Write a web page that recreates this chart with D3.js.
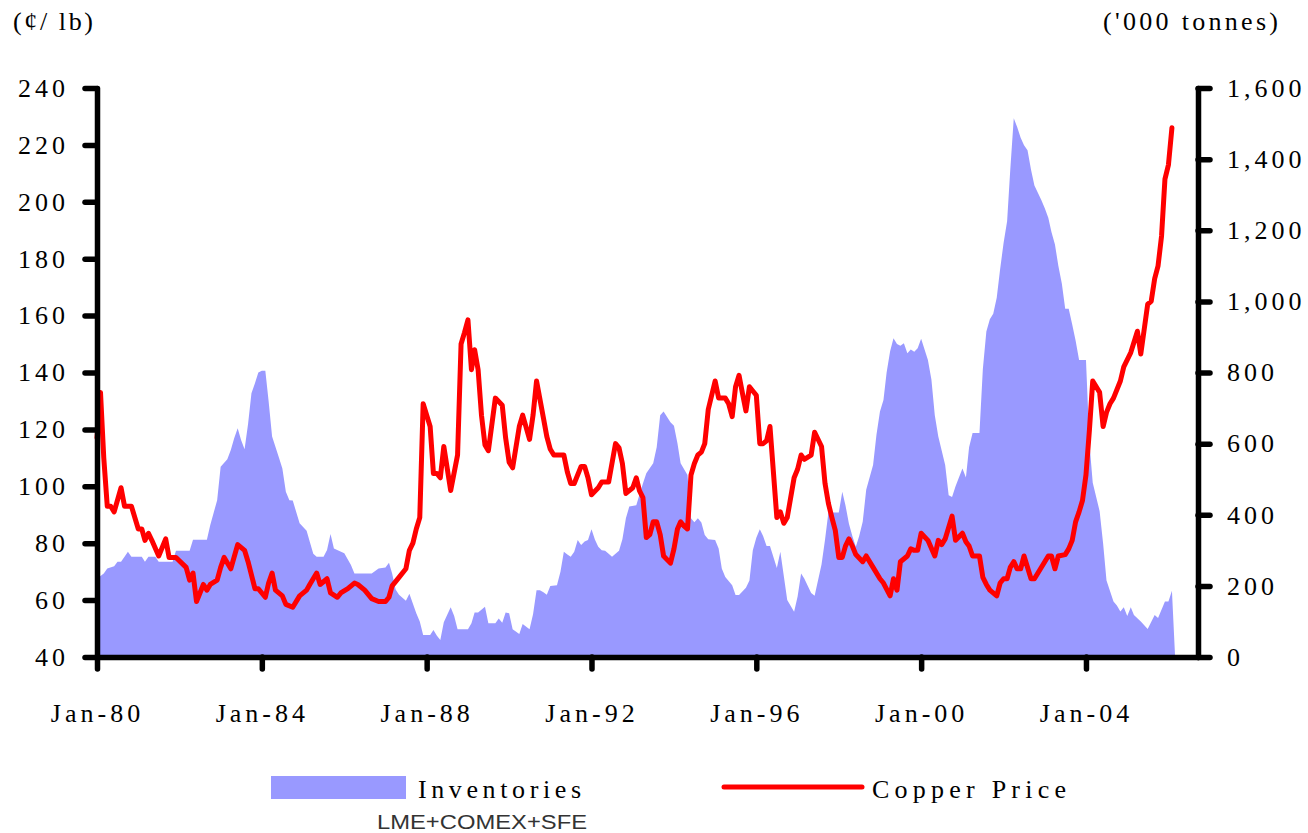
<!DOCTYPE html>
<html lang="en">
<head>
<meta charset="UTF-8">
<title>Copper Price vs Inventories</title>
<script src="https://d3js.org/d3.v7.min.js"></script>
<style>
  body { margin: 0; background: #fff; }
  svg { display: block; }
  .serif { font-family: "Liberation Serif", "Times New Roman", serif; fill: #000; }
  .axis text { font-family: "Liberation Serif", "Times New Roman", serif; font-size: 26px; letter-spacing: 4px; fill: #000; }
  .axis path, .axis line { stroke: #000; stroke-width: 5.5px; stroke-linecap: round; }
</style>
</head>
<body>
<div id="chart"></div>
<script>
// Copper price, cents per lb (monthly points)
const copperPrice = [
  ["1980-01",117],["1980-02",133],["1980-03",110],["1980-04",93],["1980-05",93],["1980-06",91],
  ["1980-08",99.5],["1980-09",93],["1980-11",93],["1981-01",85],["1981-02",85],["1981-03",81],
  ["1981-04",83.5],["1981-05",81],["1981-07",75.5],["1981-09",81.5],["1981-10",75],["1981-12",75],
  ["1982-03",71.5],["1982-04",67],["1982-05",69.5],["1982-06",59.5],["1982-08",65.5],["1982-09",63.5],
  ["1982-10",65.5],["1982-12",67],["1983-01",71.5],["1983-02",75],["1983-04",71],["1983-06",79.5],
  ["1983-08",77.5],["1983-09",73.5],["1983-11",64],["1983-12",64],["1984-02",61],["1984-03",66],
  ["1984-04",69.5],["1984-05",63.5],["1984-07",61.5],["1984-08",58.5],["1984-10",57.5],["1984-12",61.5],
  ["1985-02",63.5],["1985-03",65.5],["1985-05",69.5],["1985-06",65.5],["1985-08",67.5],["1985-09",62.5],
  ["1985-11",61],["1985-12",62.5],["1986-02",64],["1986-04",66],["1986-05",65.5],["1986-07",63.5],
  ["1986-09",60.5],["1986-11",59.5],["1987-01",59.5],["1987-02",61],["1987-03",65],["1987-05",68],
  ["1987-07",71],["1987-08",77.5],["1987-09",80],["1987-10",85],["1987-11",89],["1987-12",129],
  ["1988-02",121],["1988-03",104.5],["1988-04",104.5],["1988-05",103],["1988-06",114],["1988-08",98.5],
  ["1988-10",111],["1988-11",150],["1988-12",154],["1989-01",158.5],["1989-02",141],["1989-03",148],
  ["1989-04",141],["1989-05",125],["1989-06",114.5],["1989-07",112.5],["1989-09",131],["1989-11",128.5],
  ["1989-12",117],["1990-01",108.5],["1990-02",106.5],["1990-04",121],["1990-05",125],["1990-07",116.5],
  ["1990-08",125],["1990-09",137],["1990-11",124],["1990-12",117.5],["1991-01",113],["1991-02",111],
  ["1991-05",111],["1991-06",105],["1991-07",101],["1991-08",101],["1991-10",107],["1991-11",107],
  ["1991-12",103],["1992-01",97],["1992-03",99.5],["1992-04",101.5],["1992-06",101.5],["1992-08",115],
  ["1992-09",113.5],["1992-10",108],["1992-11",97.5],["1993-01",99.5],["1993-02",103],["1993-03",98.5],
  ["1993-04",96],["1993-05",82],["1993-06",83],["1993-07",87.5],["1993-08",87.5],["1993-09",83],
  ["1993-10",75.5],["1993-12",73],["1994-01",78],["1994-02",85],["1994-03",87.5],["1994-04",86],
  ["1994-05",85],["1994-06",104],["1994-07",108],["1994-08",111],["1994-09",112],["1994-10",115],
  ["1994-11",127],["1995-01",137],["1995-02",131],["1995-03",131],["1995-04",131],["1995-05",129],
  ["1995-06",124.5],["1995-07",135],["1995-08",139],["1995-09",132.5],["1995-10",126.5],["1995-11",135],
  ["1995-12",133.5],["1996-01",132],["1996-02",115],["1996-03",115],["1996-04",116],["1996-05",121],
  ["1996-07",89],["1996-08",91],["1996-09",87],["1996-10",89],["1996-12",103],["1997-01",106],
  ["1997-02",111],["1997-03",109.5],["1997-05",111],["1997-06",119],["1997-08",114],["1997-09",101],
  ["1997-10",94],["1997-11",89],["1997-12",84.5],["1998-01",75],["1998-02",75],["1998-03",79],
  ["1998-04",81.5],["1998-05",79],["1998-06",76],["1998-08",73.5],["1998-09",75.5],["1998-11",71.5],
  ["1999-01",67.5],["1999-02",66],["1999-04",61.5],["1999-05",67.5],["1999-06",63.5],["1999-07",73.5],
  ["1999-09",75.5],["1999-10",78],["1999-11",77.5],["1999-12",77.5],["2000-01",83.5],["2000-03",81],
  ["2000-05",75.5],["2000-06",81],["2000-07",79.5],["2000-08",81.5],["2000-10",89.5],["2000-11",81],
  ["2001-01",83.5],["2001-02",80.5],["2001-03",79],["2001-04",75.5],["2001-06",75.5],["2001-07",68],
  ["2001-08",65.5],["2001-09",63.5],["2001-11",61.5],["2001-12",66],["2002-01",67.5],["2002-02",67.5],
  ["2002-03",71.5],["2002-04",73.5],["2002-05",71],["2002-06",71],["2002-07",75.5],["2002-09",67.5],
  ["2002-10",67.5],["2003-02",75.5],["2003-03",75.5],["2003-04",71],["2003-05",75.5],["2003-07",76],
  ["2003-08",78],["2003-09",81],["2003-10",87.5],["2003-11",91],["2003-12",95],["2004-01",104],
  ["2004-02",120],["2004-03",137],["2004-05",133],["2004-06",121],["2004-07",126],["2004-08",129],
  ["2004-09",131],["2004-11",137],["2004-12",142],["2005-02",147],["2005-04",154.5],["2005-05",146.5],
  ["2005-07",164],["2005-08",165],["2005-09",173],["2005-10",177.5],["2005-11",188],["2005-12",208],
  ["2006-01",213],["2006-02",226]
];

// Inventories LME+COMEX+SFE, '000 tonnes
const inventories = [
  ["1980-01",222],["1980-02",228],["1980-03",235],["1980-04",249],["1980-06",255],["1980-07",268],
  ["1980-08",268],["1980-09",282],["1980-10",296],["1980-11",282],["1981-02",282],["1981-03",268],
  ["1981-04",282],["1981-06",282],["1981-07",268],["1981-11",268],["1981-12",299],["1982-04",299],
  ["1982-05",330],["1982-09",330],["1982-10",371],["1982-12",441],["1983-01",535],["1983-03",556],
  ["1983-04",582],["1983-05",615],["1983-06",643],["1983-07",610],["1983-08",584],["1983-09",655],
  ["1983-10",742],["1983-11",770],["1983-12",800],["1984-01",805],["1984-02",805],["1984-03",720],
  ["1984-04",620],["1984-06",560],["1984-07",530],["1984-08",465],["1984-09",441],["1984-10",440],
  ["1984-12",376],["1985-02",355],["1985-03",324],["1985-04",290],["1985-05",282],["1985-07",282],
  ["1985-08",301],["1985-09",346],["1985-10",305],["1986-01",292],["1986-03",259],["1986-04",235],
  ["1986-09",235],["1986-11",249],["1987-01",252],["1987-02",265],["1987-03",235],["1987-04",190],
  ["1987-05",175],["1987-07",158],["1987-08",178],["1987-10",123],["1987-11",100],["1987-12",62],
  ["1988-02",62],["1988-03",76],["1988-04",60],["1988-05",48],["1988-06",98],["1988-08",140],
  ["1988-09",115],["1988-10",78],["1989-01",78],["1989-02",95],["1989-03",125],["1989-04",125],
  ["1989-06",141],["1989-07",95],["1989-09",95],["1989-10",108],["1989-11",96],["1989-12",125],
  ["1990-01",123],["1990-02",78],["1990-04",65],["1990-05",93],["1990-07",78],["1990-08",120],
  ["1990-09",188],["1990-10",188],["1990-11",182],["1990-12",175],["1991-01",200],["1991-03",202],
  ["1991-04",240],["1991-05",296],["1991-06",288],["1991-07",282],["1991-08",296],["1991-09",329],
  ["1991-10",315],["1991-11",325],["1991-12",329],["1992-01",359],["1992-02",330],["1992-03",310],
  ["1992-04",300],["1992-05",299],["1992-06",290],["1992-07",282],["1992-08",290],["1992-09",299],
  ["1992-10",331],["1992-11",390],["1992-12",423],["1993-02",427],["1993-03",456],["1993-04",488],
  ["1993-05",517],["1993-07",545],["1993-08",590],["1993-09",680],["1993-10",690],["1993-12",660],
  ["1994-01",650],["1994-02",601],["1994-03",545],["1994-05",512],["1994-06",390],["1994-07",379],
  ["1994-08",390],["1994-09",378],["1994-10",343],["1994-11",331],["1995-01",329],["1995-02",305],
  ["1995-03",249],["1995-04",225],["1995-06",202],["1995-07",174],["1995-08",174],["1995-10",195],
  ["1995-11",215],["1995-12",300],["1996-01",335],["1996-02",359],["1996-03",340],["1996-04",312],
  ["1996-05",312],["1996-07",250],["1996-08",296],["1996-10",160],["1996-12",127],["1997-01",170],
  ["1997-02",235],["1997-03",221],["1997-05",180],["1997-06",172],["1997-08",260],["1997-09",330],
  ["1997-10",406],["1998-01",406],["1998-02",465],["1998-03",427],["1998-04",375],["1998-05",340],
  ["1998-06",310],["1998-07",340],["1998-08",380],["1998-09",470],["1998-11",540],["1998-12",625],
  ["1999-01",690],["1999-02",723],["1999-03",800],["1999-04",860],["1999-05",896],["1999-06",880],
  ["1999-07",875],["1999-08",882],["1999-09",854],["1999-10",865],["1999-11",858],["1999-12",868],
  ["2000-01",895],["2000-03",835],["2000-04",780],["2000-05",680],["2000-06",620],["2000-08",540],
  ["2000-09",455],["2000-10",450],["2000-11",480],["2000-12",505],["2001-01",530],["2001-02",505],
  ["2001-03",590],["2001-04",630],["2001-06",630],["2001-07",810],["2001-08",915],["2001-09",950],
  ["2001-10",965],["2001-11",1010],["2001-12",1090],["2002-01",1165],["2002-02",1225],["2002-03",1370],
  ["2002-04",1515],["2002-05",1490],["2002-06",1460],["2002-07",1439],["2002-08",1425],["2002-09",1370],
  ["2002-10",1326],["2002-12",1285],["2003-01",1262],["2003-02",1235],["2003-03",1195],["2003-04",1160],
  ["2003-05",1100],["2003-06",1050],["2003-07",979],["2003-08",979],["2003-09",935],["2003-10",890],
  ["2003-11",835],["2004-01",835],["2004-02",600],["2004-03",490],["2004-05",410],["2004-06",319],
  ["2004-07",215],["2004-09",156],["2004-10",145],["2004-11",128],["2004-12",140],["2005-01",115],
  ["2005-02",140],["2005-03",118],["2005-05",100],["2005-07",79],["2005-09",118],["2005-10",110],
  ["2005-12",156],["2006-01",156],["2006-02",186],["2006-03",0]
];

const leftTicks = [40, 60, 80, 100, 120, 140, 160, 180, 200, 220, 240];
const rightTicks = [0, 200, 400, 600, 800, 1000, 1200, 1400, 1600];
const dateTicks = ["1980-01", "1984-01", "1988-01", "1992-01", "1996-01", "2000-01", "2004-01"];

const W = 1308, H = 833;
const plot = { left: 97, right: 1198, top: 88, bottom: 657 };

const parseMonth = d3.timeParse("%Y-%m");
const priceData = copperPrice.map(([m, v]) => ({ date: parseMonth(m), value: v }));
const stockData = inventories.map(([m, v]) => ({ date: parseMonth(m), value: v }));

const svg = d3.select("#chart").append("svg")
    .attr("width", W)
    .attr("height", H);

svg.append("rect").attr("width", W).attr("height", H).attr("fill", "#fff");

const x = d3.scaleTime()
    .domain([new Date(1980, 0, 1), new Date(2006, 8, 20)])
    .range([plot.left, plot.right]);

const yLeft = d3.scaleLinear().domain([40, 240]).range([plot.bottom, plot.top]);
const yRight = d3.scaleLinear().domain([0, 1600]).range([plot.bottom, plot.top]);

// inventories area
svg.append("path")
    .datum(stockData)
    .attr("fill", "#9999FF")
    .attr("d", d3.area()
        .x(d => x(d.date))
        .y0(yRight(0))
        .y1(d => yRight(d.value)));

// copper price line
svg.append("path")
    .datum(priceData)
    .attr("fill", "none")
    .attr("stroke", "#FF0000")
    .attr("stroke-width", 5)
    .attr("stroke-linejoin", "round")
    .attr("stroke-linecap", "round")
    .attr("d", d3.line()
        .x(d => x(d.date))
        .y(d => yLeft(d.value)));

// axes
svg.append("g")
    .attr("class", "axis")
    .attr("transform", `translate(${plot.left},0)`)
    .call(d3.axisLeft(yLeft).tickValues(leftTicks).tickSize(12).tickSizeOuter(0).tickPadding(16));

svg.append("g")
    .attr("class", "axis")
    .attr("transform", `translate(${plot.right},0)`)
    .call(d3.axisRight(yRight).tickValues(rightTicks).tickFormat(d3.format(","))
        .tickSize(12).tickSizeOuter(0).tickPadding(17));

svg.append("g")
    .attr("class", "axis")
    .attr("transform", `translate(0,${plot.bottom})`)
    .call(d3.axisBottom(x).tickValues(dateTicks.map(parseMonth))
        .tickFormat(d3.timeFormat("%b-%y")).tickSize(12).tickSizeOuter(0).tickPadding(35));

// unit labels
svg.append("text").attr("class", "serif")
    .attr("x", 13).attr("y", 30)
    .attr("font-size", 26)
    .attr("textLength", 80)
    .text("(¢/ lb)");

svg.append("text").attr("class", "serif")
    .attr("x", 1103).attr("y", 30)
    .attr("font-size", 26)
    .attr("textLength", 175)
    .text("('000 tonnes)");

// legend
svg.append("rect")
    .attr("x", 271).attr("y", 776)
    .attr("width", 135).attr("height", 23)
    .attr("fill", "#9999FF");

svg.append("text").attr("class", "serif")
    .attr("x", 418).attr("y", 798)
    .attr("font-size", 26)
    .attr("textLength", 163)
    .text("Inventories");

svg.append("text")
    .attr("x", 377).attr("y", 829)
    .attr("font-family", "'Liberation Sans', Arial, sans-serif")
    .attr("font-size", 20)
    .attr("fill", "#333")
    .attr("textLength", 210)
    .attr("lengthAdjust", "spacingAndGlyphs")
    .text("LME+COMEX+SFE");

svg.append("line")
    .attr("x1", 724).attr("x2", 862)
    .attr("y1", 787).attr("y2", 787)
    .attr("stroke", "#FF0000")
    .attr("stroke-width", 5)
    .attr("stroke-linecap", "round");

svg.append("text").attr("class", "serif")
    .attr("x", 872).attr("y", 798)
    .attr("font-size", 26)
    .attr("textLength", 194)
    .text("Copper Price");
</script>
</body>
</html>
